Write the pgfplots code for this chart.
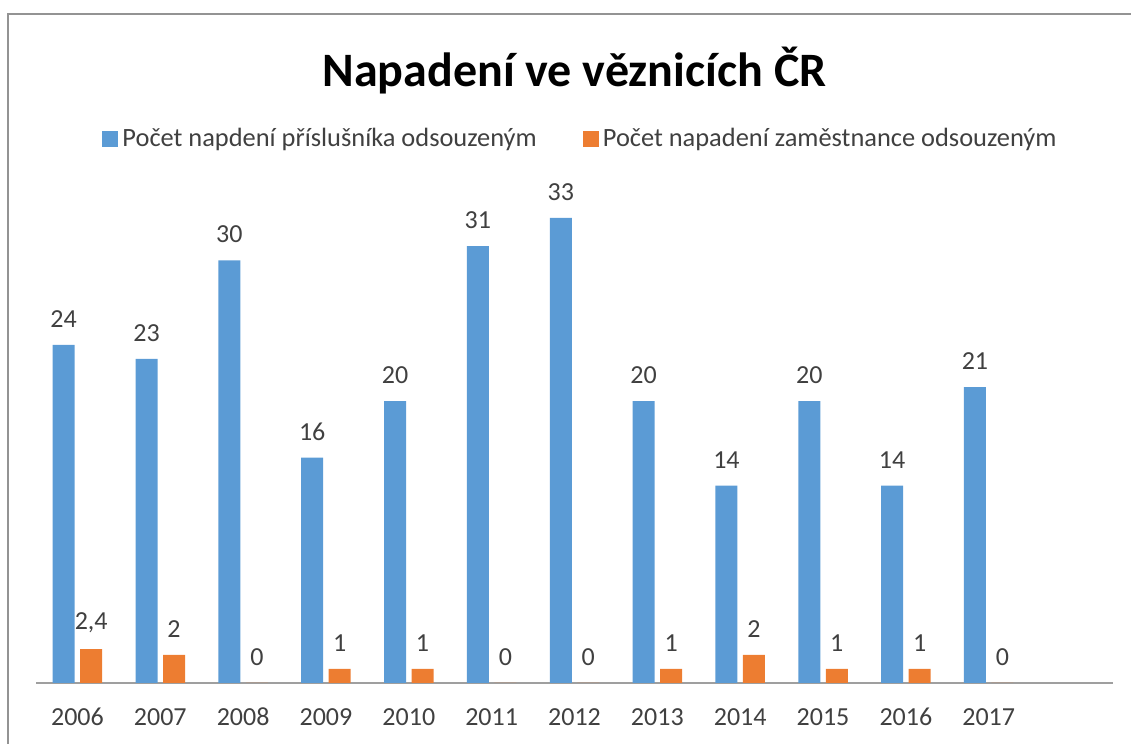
\documentclass[border=0pt]{standalone}
\usepackage{pgfplots}
\pgfplotsset{compat=1.18}
\usepackage{fontspec}
\setmainfont{Carlito}
\definecolor{cblue}{HTML}{5B9BD5}
\definecolor{corange}{HTML}{ED7D31}
\definecolor{txt}{HTML}{404040}
\begin{document}
\begin{tikzpicture}
\path[use as bounding box] (0pt,0pt) rectangle (565.5pt,372pt);
\draw[color=gray!85, line width=0.75pt] (570.5pt,-5pt) -- (570.5pt,365pt) -- (4pt,365pt) -- (4pt,-5pt);
\begin{axis}[
  at={(18pt,30.5pt)}, anchor=south west,
  scale only axis, width=538.5pt, height=246.6pt,
  xmin=-0.5, xmax=12.5, ymin=0, ymax=35,
  enlargelimits=false, clip=false,
  axis x line*=bottom, hide y axis,
  x axis line style={draw=gray!75, line width=0.6pt, -},
  major tick length=0pt,
  ybar=2.75pt, bar width=11pt,
  xtick={0,...,11},
  xticklabels={2006,2007,2008,2009,2010,2011,2012,2013,2014,2015,2016,2017},
  xticklabel style={font=\fontsize{13}{15}\selectfont, text=txt, anchor=base, yshift=-21.5pt},
  /pgf/number format/.cd, use comma, assume math mode=true, /pgfplots/.cd,
  nodes near coords,
  every node near coord/.append style={anchor=center, yshift=13pt, font=\fontsize{13}{15}\selectfont, text=txt},
  title={Napadení ve věznicích ČR},
  title style={at={(0.5,1.185)}, anchor=base, font=\fontsize{24}{28}\selectfont\bfseries, text=black},
  legend style={at={(0.5065,1.104)}, anchor=center, draw=none, legend columns=2,
    font=\fontsize{13.2}{15}\selectfont, text=txt,
    /tikz/every even column/.append style={column sep=21pt}},
  legend image code/.code={\fill[#1] (0pt,-4pt) rectangle (8pt,4pt);},
]
\addplot[fill=cblue, draw=none] coordinates {(0,24)(1,23)(2,30)(3,16)(4,20)(5,31)(6,33)(7,20)(8,14)(9,20)(10,14)(11,21)};
\addplot[fill=corange, draw=none] coordinates {(0,2.4)(1,2)(2,0)(3,1)(4,1)(5,0)(6,0)(7,1)(8,2)(9,1)(10,1)(11,0)};
\legend{Počet napdení příslušníka odsouzeným, Počet napadení zaměstnance odsouzeným}
\end{axis}
\end{tikzpicture}
\end{document}
